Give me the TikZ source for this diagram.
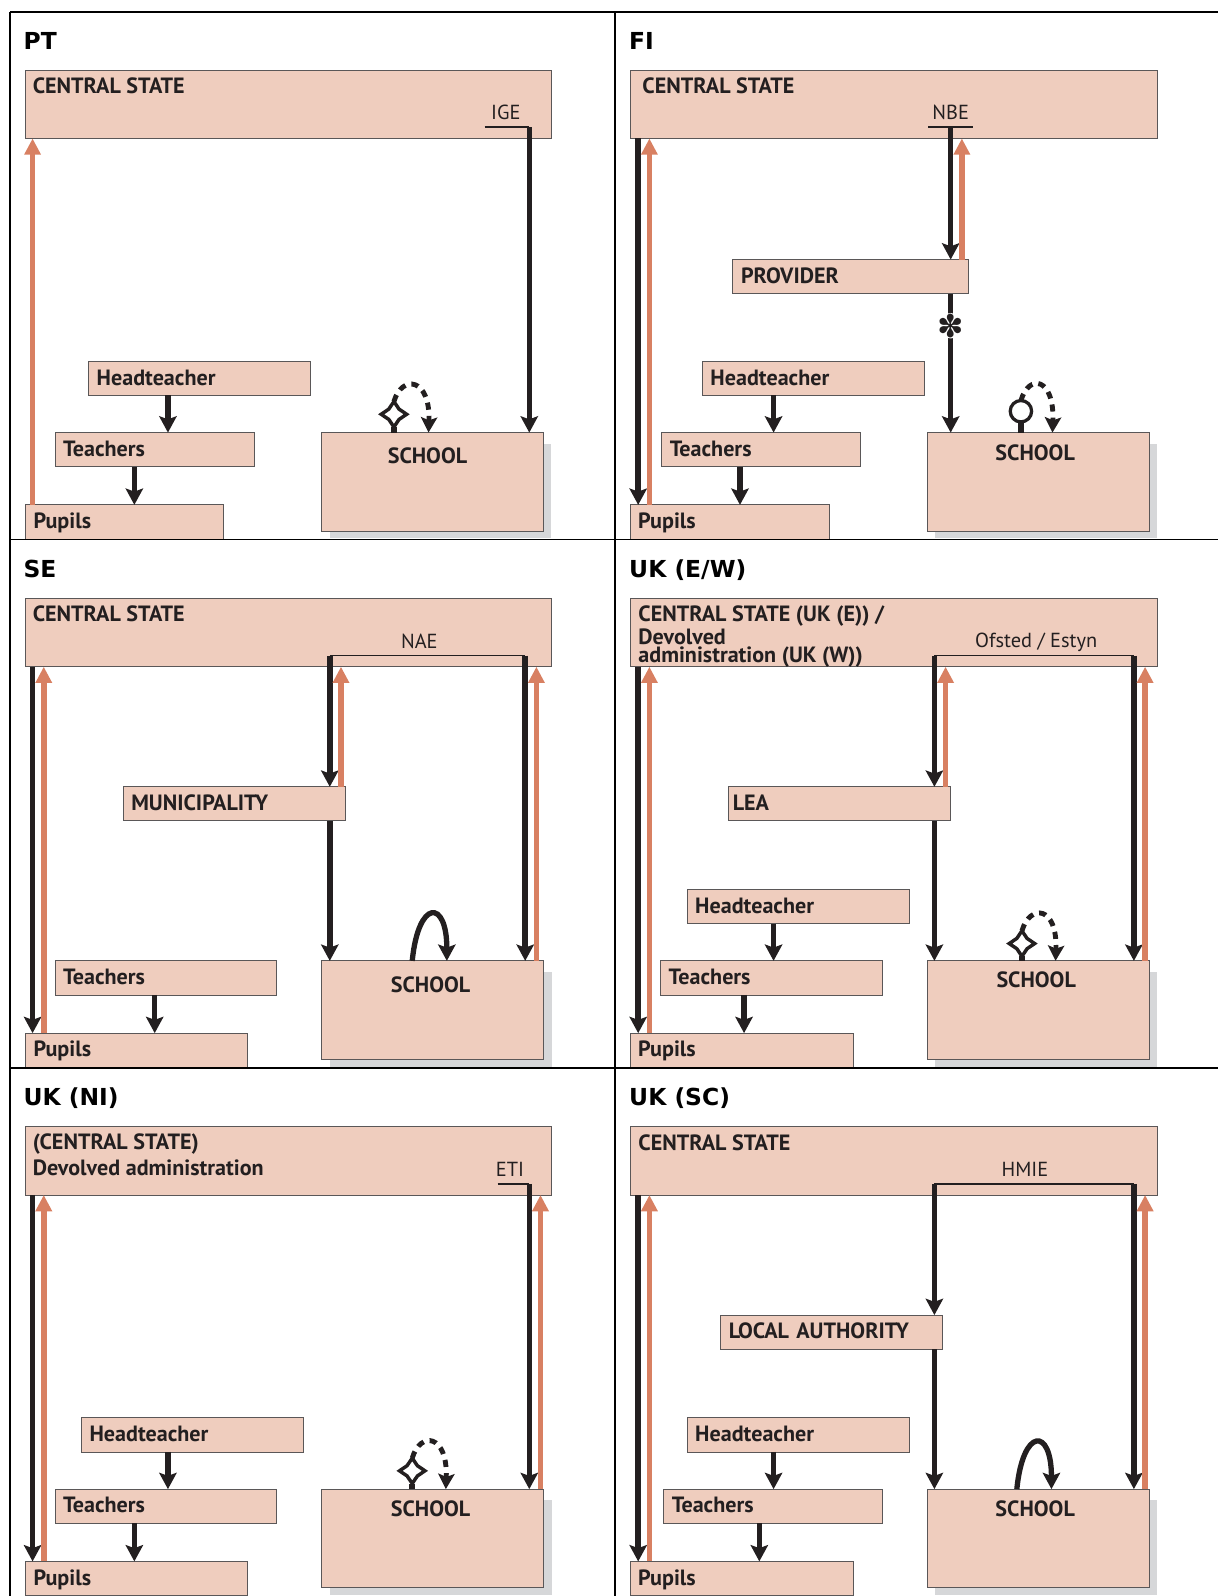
\documentclass[tikz,border=0pt]{standalone}
\usepackage{fontspec}
\setmainfont{PT Sans}
\newfontfamily\titlefont{DejaVu Sans}
\newfontfamily\symbolfont{DejaVu Sans}
\usetikzlibrary{shapes, arrows.meta, positioning}
\definecolor{salmon1}{RGB}{239, 205, 190}
\definecolor{orange1}{RGB}{216, 128, 98}
\definecolor{ink1}{RGB}{35, 31, 32}
\definecolor{shade1}{RGB}{214, 215, 217}
\tikzset{
  gridline/.style={draw=black, line width=1.7pt},
  statebox/.style={draw=ink1!75, fill=salmon1, line width=0.9pt, anchor=north west, outer sep=0pt, inner ysep=0pt, inner xsep=8pt, minimum height=33.5pt, text width=#1, text height=14.5pt, text depth=1.5pt, align=left, text=ink1, font=\fontsize{21.7}{23}\selectfont\bfseries},
  bigbox/.style={draw=ink1!75, fill=salmon1, line width=0.9pt, anchor=north west, outer sep=0pt, inner sep=0pt},
  boxlabel/.style={anchor=base west, inner sep=0pt, text=ink1, align=left, font=\fontsize{21.7}{23}\selectfont\bfseries},
  schoollabel/.style={inner sep=0pt, text=ink1, font=\fontsize{21.7}{23}\selectfont\bfseries},
  bodylabel/.style={inner sep=0pt, text=ink1, font=\fontsize{20}{22}\selectfont},
  paneltitle/.style={anchor=base west, inner sep=0pt, font=\titlefont\fontsize{23}{25}\selectfont\bfseries},
  shadowbox/.style={fill=shade1, draw=none},
  blackline/.style={draw=ink1, line width=5.4pt},
  blackarrow/.style={blackline, -{Stealth[length=16pt, width=17pt, inset=3pt]}},
  orangearrow/.style={draw=orange1, line width=5.4pt, -{Triangle[length=16pt, width=15.5pt]}},
  bracketline/.style={draw=ink1, line width=1.6pt},
  dashedloop/.style={draw=ink1, line width=4.8pt, dash pattern=on 7pt off 6pt, -{Stealth[length=15pt, width=16pt, inset=3pt]}},
  solidloop/.style={draw=ink1, line width=5.2pt, -{Stealth[length=16pt, width=17pt, inset=3pt]}},
  starmark/.style={star, star points=4, star point ratio=1.75, draw=ink1, fill=white, line width=3.4pt, minimum size=25pt, inner sep=0pt, outer sep=0pt},
  circlemark/.style={circle, draw=ink1, fill=white, line width=3.2pt, minimum size=21pt, inner sep=0pt, outer sep=0pt},
  asteriskmark/.style={circle, fill=white, inner sep=0pt, minimum size=25pt, text=ink1, font=\symbolfont\fontsize{31}{31}\selectfont},
}
\begin{document}
\begin{tikzpicture}[x=1pt, y=-1pt]
  \useasboundingbox (0,0) rectangle (1197,1568);

  % PT
  \node[bigbox, minimum width=517pt, minimum height=67pt] (ptstate) at (25,69) {};
  \node[boxlabel] (ptstatelabel) at (32,92) {CENTRAL STATE};
  \node[bodylabel] (ptige) at (497,110) {IGE};
  \coordinate (ptigeleft) at (476,125);
  \coordinate (ptigeright) at (520,125);
  \node[statebox=202pt] (pthead) at (87,355) {Headteacher};
  \node[statebox=180pt] (ptteach) at (54,425) {Teachers};
  \node[statebox=179pt] (ptpupils) at (25,496) {Pupils};
  \fill[shadowbox] (324,436) rectangle (541,529);
  \node[bigbox, minimum width=218pt, minimum height=97pt] (ptschool) at (316,425) {};
  \node[schoollabel] (ptschoollabel) at (420,448) {SCHOOL};
  \coordinate (ptrailorange) at (32,0);
  \coordinate (ptrailhead) at (165,0);
  \coordinate (ptrailteach) at (132,0);
  \coordinate (ptrailloop) at (421,0);
  \node[starmark] (ptstar) at (387,407) {};
  \draw[bracketline] (ptigeleft) -- (ptigeright);
  \draw[blackarrow] (ptigeright) -- (ptigeright |- ptschool.north);
  \draw[orangearrow] (ptrailorange |- ptpupils.north) -- (ptrailorange |- ptstate.south);
  \draw[blackarrow] (ptrailhead |- pthead.south) -- (ptrailhead |- ptteach.north);
  \draw[blackarrow] (ptrailteach |- ptteach.south) -- (ptrailteach |- ptpupils.north);
  \draw[blackline] (ptstar.south |- ptschool.north) -- (ptstar.south);
  \draw[dashedloop] (ptstar.north) .. controls +(8,-27) and +(2,-54) .. (ptrailloop |- ptschool.north);

  % FI
  \node[bigbox, minimum width=518pt, minimum height=67pt] (fistate) at (619,69) {};
  \node[boxlabel] (fistatelabel) at (631,92) {CENTRAL STATE};
  \node[bodylabel] (finbe) at (934,110) {NBE};
  \coordinate (finbeleft) at (912,125);
  \coordinate (finbemid) at (934,125);
  \coordinate (finberight) at (956,125);
  \node[statebox=215pt] (fiprovider) at (720,255) {PROVIDER};
  \node[statebox=202pt] (fihead) at (690,355) {Headteacher};
  \node[statebox=179pt] (fiteach) at (650,425) {Teachers};
  \node[statebox=180pt] (fipupils) at (619,496) {Pupils};
  \fill[shadowbox] (919,436) rectangle (1137,529);
  \node[bigbox, minimum width=218pt, minimum height=97pt] (fischool) at (911,425) {};
  \node[schoollabel] (fischoollabel) at (1017,445) {SCHOOL};
  \coordinate (firailblack) at (627,0);
  \coordinate (firailorange) at (638,0);
  \coordinate (firailup) at (945,0);
  \coordinate (firailhead) at (760,0);
  \coordinate (firailteach) at (727,0);
  \coordinate (firailloop) at (1034,0);
  \node[circlemark] (ficircle) at (1003,404) {};
  \draw[bracketline] (finbeleft) -- (finberight);
  \draw[blackarrow] (firailblack |- fistate.south) -- (firailblack |- fipupils.north);
  \draw[orangearrow] (firailorange |- fipupils.north) -- (firailorange |- fistate.south);
  \draw[blackarrow] (finbemid) -- (finbemid |- fiprovider.north);
  \draw[orangearrow] (firailup |- fiprovider.north) -- (firailup |- fistate.south);
  \draw[blackarrow] (finbemid |- fiprovider.south) -- (finbemid |- fischool.north);
  \node[asteriskmark] (fistarred) at (934,320) {\smash{\makebox[0pt]{\raisebox{-0.37em}{✽}}}};
  \draw[blackarrow] (firailhead |- fihead.south) -- (firailhead |- fiteach.north);
  \draw[blackarrow] (firailteach |- fiteach.south) -- (firailteach |- fipupils.north);
  \draw[blackline] (ficircle.south |- fischool.north) -- (ficircle.south);
  \draw[dashedloop] (ficircle.north) .. controls +(8,-27) and +(2,-54) .. (firailloop |- fischool.north);

  % SE
  \node[paneltitle] (setitle) at (23,567.5) {SE};
  \node[bigbox, minimum width=517pt, minimum height=67pt] (sestate) at (25,588) {};
  \node[boxlabel] (sestatelabel) at (32,611) {CENTRAL STATE};
  \node[bodylabel] (senae) at (412,630) {NAE};
  \coordinate (senaeleft) at (324,644);
  \coordinate (senaeright) at (516,644);
  \node[statebox=202pt] (semuni) at (121,773) {MUNICIPALITY};
  \node[statebox=202pt] (seteach) at (54,944) {Teachers};
  \node[statebox=202pt] (sepupils) at (25,1015) {Pupils};
  \fill[shadowbox] (324,955) rectangle (542,1048);
  \node[bigbox, minimum width=218pt, minimum height=97pt] (seschool) at (316,944) {};
  \node[schoollabel] (seschoollabel) at (423,967) {SCHOOL};
  \coordinate (serailblack) at (32,0);
  \coordinate (serailorange) at (43,0);
  \coordinate (serailup) at (335,0);
  \coordinate (serailright) at (527,0);
  \coordinate (serailteach) at (152,0);
  \coordinate (serailloopa) at (405,0);
  \coordinate (serailloopb) at (439,0);
  \draw[bracketline] (senaeleft) -- (senaeright);
  \draw[blackarrow] (serailblack |- sestate.south) -- (serailblack |- sepupils.north);
  \draw[orangearrow] (serailorange |- sepupils.north) -- (serailorange |- sestate.south);
  \draw[blackarrow] (senaeleft) -- (senaeleft |- semuni.north);
  \draw[orangearrow] (serailup |- semuni.north) -- (serailup |- sestate.south);
  \draw[blackarrow] (senaeleft |- semuni.south) -- (senaeleft |- seschool.north);
  \draw[blackarrow] (senaeright) -- (senaeright |- seschool.north);
  \draw[orangearrow] (serailright |- seschool.north) -- (serailright |- sestate.south);
  \draw[blackarrow] (serailteach |- seteach.south) -- (serailteach |- sepupils.north);
  \draw[solidloop] (serailloopa |- seschool.north) .. controls +(6,-61) and +(0,-61) .. (serailloopb |- seschool.north);

  % UK (E/W)
  \node[paneltitle] (ewtitle) at (618,567.5) {UK (E/W)};
  \node[bigbox, minimum width=518pt, minimum height=67pt] (ewstate) at (619,588) {};
  \node[boxlabel] (ewstatelabela) at (627,611) {CENTRAL STATE (UK (E)) /};
  \node[boxlabel] (ewstatelabelb) at (627,633) {Devolved};
  \node[boxlabel] (ewstatelabelc) at (627,651) {administration (UK (W))};
  \node[bodylabel] (ewofsted) at (1018,631.5) {Ofsted / Estyn};
  \coordinate (ewofstedleft) at (918,644);
  \coordinate (ewofstedright) at (1114,644);
  \node[statebox=210pt, inner xsep=4pt] (ewlea) at (716,773) {LEA};
  \node[statebox=202pt] (ewhead) at (675,874) {Headteacher};
  \node[statebox=202pt] (ewteach) at (649,944) {Teachers};
  \node[statebox=203pt] (ewpupils) at (619,1015) {Pupils};
  \fill[shadowbox] (919,955) rectangle (1137,1048);
  \node[bigbox, minimum width=218pt, minimum height=97pt] (ewschool) at (911,944) {};
  \node[schoollabel] (ewschoollabel) at (1018,963) {SCHOOL};
  \coordinate (ewrailblack) at (627,0);
  \coordinate (ewrailorange) at (638,0);
  \coordinate (ewrailup) at (929,0);
  \coordinate (ewrailright) at (1125,0);
  \coordinate (ewrailhead) at (760,0);
  \coordinate (ewrailteach) at (731,0);
  \coordinate (ewrailloop) at (1037,0);
  \node[starmark] (ewstar) at (1004,927) {};
  \draw[bracketline] (ewofstedleft) -- (ewofstedright);
  \draw[blackarrow] (ewrailblack |- ewstate.south) -- (ewrailblack |- ewpupils.north);
  \draw[orangearrow] (ewrailorange |- ewpupils.north) -- (ewrailorange |- ewstate.south);
  \draw[blackarrow] (ewofstedleft) -- (ewofstedleft |- ewlea.north);
  \draw[orangearrow] (ewrailup |- ewlea.north) -- (ewrailup |- ewstate.south);
  \draw[blackarrow] (ewofstedleft |- ewlea.south) -- (ewofstedleft |- ewschool.north);
  \draw[blackarrow] (ewofstedright) -- (ewofstedright |- ewschool.north);
  \draw[orangearrow] (ewrailright |- ewschool.north) -- (ewrailright |- ewstate.south);
  \draw[blackarrow] (ewrailhead |- ewhead.south) -- (ewrailhead |- ewteach.north);
  \draw[blackarrow] (ewrailteach |- ewteach.south) -- (ewrailteach |- ewpupils.north);
  \draw[blackline] (ewstar.south |- ewschool.north) -- (ewstar.south);
  \draw[dashedloop] (ewstar.north) .. controls +(8,-27) and +(2,-54) .. (ewrailloop |- ewschool.north);

  % UK (NI)
  \node[paneltitle] (nititle) at (23,1086.5) {UK (NI)};
  \node[bigbox, minimum width=517pt, minimum height=67pt] (nistate) at (25,1107) {};
  \node[boxlabel] (nistatelabela) at (32,1129) {(CENTRAL STATE)};
  \node[boxlabel] (nistatelabelb) at (32,1155) {Devolved administration};
  \node[bodylabel] (nieti) at (501,1149) {ETI};
  \coordinate (nietileft) at (489,1163);
  \coordinate (nietiright) at (520,1163);
  \node[statebox=202pt] (nihead) at (80,1393) {Headteacher};
  \node[statebox=202pt] (niteach) at (54,1463) {Teachers};
  \node[statebox=202pt] (nipupils) at (25,1534) {Pupils};
  \fill[shadowbox] (324,1474) rectangle (542,1567);
  \node[bigbox, minimum width=218pt, minimum height=97pt] (nischool) at (316,1463) {};
  \node[schoollabel] (nischoollabel) at (423,1482) {SCHOOL};
  \coordinate (nirailblack) at (32,0);
  \coordinate (nirailorange) at (43,0);
  \coordinate (nirailright) at (531,0);
  \coordinate (nirailhead) at (165,0);
  \coordinate (nirailteach) at (132,0);
  \coordinate (nirailloop) at (438,0);
  \node[starmark] (nistar) at (405,1445) {};
  \draw[bracketline] (nietileft) -- (nietiright);
  \draw[blackarrow] (nirailblack |- nistate.south) -- (nirailblack |- nipupils.north);
  \draw[orangearrow] (nirailorange |- nipupils.north) -- (nirailorange |- nistate.south);
  \draw[blackarrow] (nietiright) -- (nietiright |- nischool.north);
  \draw[orangearrow] (nirailright |- nischool.north) -- (nirailright |- nistate.south);
  \draw[blackarrow] (nirailhead |- nihead.south) -- (nirailhead |- niteach.north);
  \draw[blackarrow] (nirailteach |- niteach.south) -- (nirailteach |- nipupils.north);
  \draw[blackline] (nistar.south |- nischool.north) -- (nistar.south);
  \draw[dashedloop] (nistar.north) .. controls +(8,-27) and +(2,-54) .. (nirailloop |- nischool.north);

  % UK (SC)
  \node[paneltitle] (sctitle) at (618,1086.5) {UK (SC)};
  \node[bigbox, minimum width=518pt, minimum height=67pt] (scstate) at (619,1107) {};
  \node[boxlabel] (scstatelabel) at (627,1130) {CENTRAL STATE};
  \node[bodylabel] (schmie) at (1007,1149) {HMIE};
  \coordinate (schmieleft) at (918,1163);
  \coordinate (schmieright) at (1114,1163);
  \node[statebox=202pt] (sclocal) at (708,1292) {LOCAL AUTHORITY};
  \node[statebox=202pt] (schead) at (675,1393) {Headteacher};
  \node[statebox=199pt] (scteach) at (652,1463) {Teachers};
  \node[statebox=203pt] (scpupils) at (619,1534) {Pupils};
  \fill[shadowbox] (919,1474) rectangle (1137,1567);
  \node[bigbox, minimum width=218pt, minimum height=97pt] (scschool) at (911,1463) {};
  \node[schoollabel] (scschoollabel) at (1017,1482) {SCHOOL};
  \coordinate (scrailblack) at (627,0);
  \coordinate (scrailorange) at (638,0);
  \coordinate (scrailright) at (1125,0);
  \coordinate (scrailhead) at (760,0);
  \coordinate (scrailteach) at (746,0);
  \coordinate (scrailloopa) at (999,0);
  \coordinate (scrailloopb) at (1033,0);
  \draw[bracketline] (schmieleft) -- (schmieright);
  \draw[blackarrow] (scrailblack |- scstate.south) -- (scrailblack |- scpupils.north);
  \draw[orangearrow] (scrailorange |- scpupils.north) -- (scrailorange |- scstate.south);
  \draw[blackarrow] (schmieleft) -- (schmieleft |- sclocal.north);
  \draw[blackarrow] (schmieleft |- sclocal.south) -- (schmieleft |- scschool.north);
  \draw[blackarrow] (schmieright) -- (schmieright |- scschool.north);
  \draw[orangearrow] (scrailright |- scschool.north) -- (scrailright |- scstate.south);
  \draw[blackarrow] (scrailhead |- schead.south) -- (scrailhead |- scteach.north);
  \draw[blackarrow] (scrailteach |- scteach.south) -- (scrailteach |- scpupils.north);
  \draw[solidloop] (scrailloopa |- scschool.north) .. controls +(6,-61) and +(0,-61) .. (scrailloopb |- scschool.north);

  \node[paneltitle] (pttitle) at (23,48.5) {PT};
  \node[paneltitle] (fititle) at (618,48.5) {FI};
  \draw[gridline] (10,12) -- (1197,12);
  \draw[gridline] (10,530) -- (1197,530);
  \draw[gridline] (10,1049.5) -- (1197,1049.5);
  \draw[gridline] (10,12) -- (10,1568);
  \draw[gridline] (604,12) -- (604,1568);
\end{tikzpicture}
\end{document}
